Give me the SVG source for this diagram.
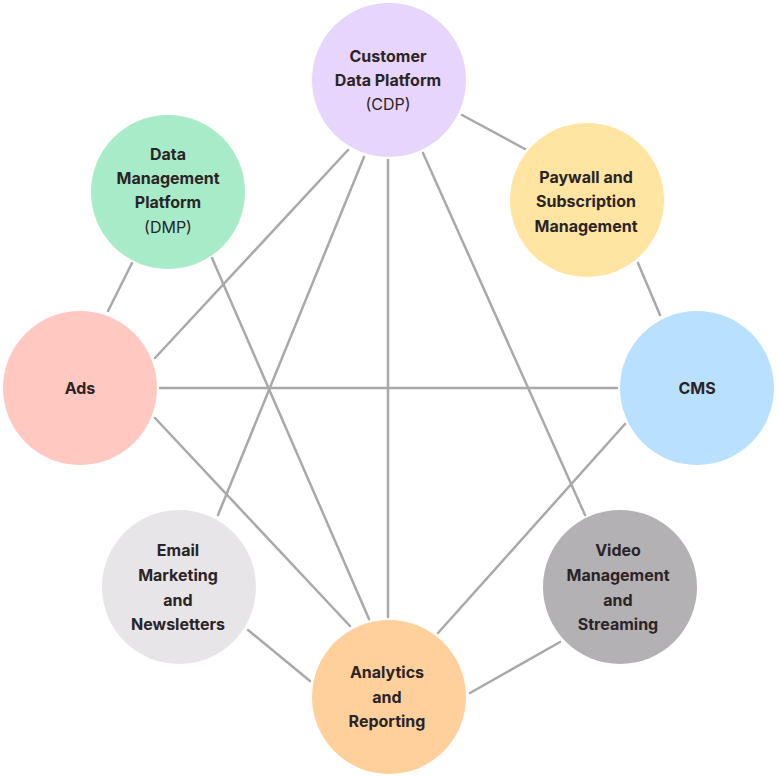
<svg xmlns="http://www.w3.org/2000/svg" width="780" height="777" viewBox="0 0 780 777">
<style>
.c{stroke:none}
.t{font-family:Inter,"Liberation Sans",sans-serif;font-size:16px;font-weight:700;fill:#2a2426;text-anchor:middle;dominant-baseline:central}
.r{font-weight:400}
#connectors line{stroke:#a9a9a9;stroke-width:2.5;stroke-linecap:round}
</style>
<rect width="780" height="777" fill="#ffffff"/>
<g id="connectors">
<line x1="462" y1="115" x2="525" y2="149"/>
<line x1="132" y1="263" x2="108" y2="311"/>
<line x1="638" y1="263" x2="660" y2="315"/>
<line x1="348" y1="150" x2="155" y2="358"/>
<line x1="364" y1="157" x2="218" y2="515"/>
<line x1="388" y1="160" x2="388" y2="617"/>
<line x1="423" y1="153" x2="585" y2="515"/>
<line x1="212" y1="258" x2="369" y2="619"/>
<line x1="160" y1="388" x2="617" y2="388"/>
<line x1="155" y1="418" x2="350" y2="626"/>
<line x1="625" y1="424" x2="438" y2="633"/>
<line x1="248" y1="630" x2="310" y2="681"/>
<line x1="560" y1="642" x2="470" y2="693"/>
</g>
<g id="cdp">
<circle class="c" cx="389" cy="80" r="77" fill="#e7d5fd"/>
<text class="t" x="388" y="56">Customer</text>
<text class="t" x="388" y="80">Data Platform</text>
<text class="t r" x="388" y="104">(CDP)</text>
</g>
<g id="dmp">
<circle class="c" cx="168" cy="192" r="77" fill="#a8ebc9"/>
<text class="t" x="168" y="154">Data</text>
<text class="t" x="168" y="178">Management</text>
<text class="t" x="168" y="202">Platform</text>
<text class="t r" x="168" y="227">(DMP)</text>
</g>
<g id="paywall">
<circle class="c" cx="587" cy="200" r="77" fill="#ffe5a1"/>
<text class="t" x="586" y="177">Paywall and</text>
<text class="t" x="586" y="201">Subscription</text>
<text class="t" x="586" y="226">Management</text>
</g>
<g id="ads">
<circle class="c" cx="80" cy="388" r="77" fill="#ffc9c2"/>
<text class="t" x="80" y="388">Ads</text>
</g>
<g id="cms">
<circle class="c" cx="697" cy="388" r="77" fill="#bae0ff"/>
<text class="t" x="697" y="388">CMS</text>
</g>
<g id="email">
<circle class="c" cx="179" cy="587" r="77" fill="#e7e5e8"/>
<text class="t" x="178" y="550">Email</text>
<text class="t" x="178" y="575">Marketing</text>
<text class="t" x="178" y="600">and</text>
<text class="t" x="178" y="624">Newsletters</text>
</g>
<g id="video">
<circle class="c" cx="620" cy="587" r="77" fill="#b3b1b4"/>
<text class="t" x="618" y="550">Video</text>
<text class="t" x="618" y="575">Management</text>
<text class="t" x="618" y="600">and</text>
<text class="t" x="618" y="624">Streaming</text>
</g>
<g id="analytics">
<circle class="c" cx="389" cy="697" r="77" fill="#ffd09b"/>
<text class="t" x="387" y="672">Analytics</text>
<text class="t" x="387" y="697">and</text>
<text class="t" x="387" y="721">Reporting</text>
</g>
</svg>
